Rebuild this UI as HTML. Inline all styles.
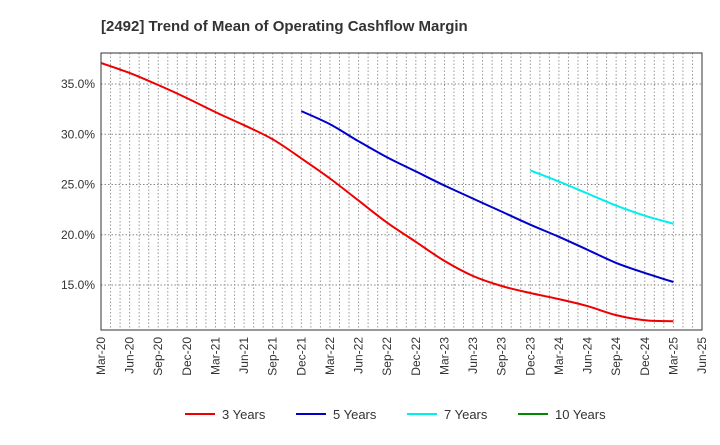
<!DOCTYPE html>
<html><head><meta charset="utf-8"><style>
body{margin:0;background:#fff;font-family:"Liberation Sans",Arial,sans-serif}
</style></head><body>
<svg id="c" width="720" height="440" xmlns="http://www.w3.org/2000/svg">
<text x="101" y="31" font-size="15" font-weight="bold" fill="#333">[2492]  Trend of Mean of Operating Cashflow Margin</text>
<g id="grid"></g><g id="axes"></g><g id="series"></g><g id="legend"></g>
</svg>
<script>
const xLabels=["Mar-20","Jun-20","Sep-20","Dec-20","Mar-21","Jun-21","Sep-21","Dec-21","Mar-22","Jun-22","Sep-22","Dec-22","Mar-23","Jun-23","Sep-23","Dec-23","Mar-24","Jun-24","Sep-24","Dec-24","Mar-25","Jun-25"];
const yTicks=[15,20,25,30,35];
const s3=[37.1,36.1,34.9,33.6,32.2,30.9,29.5,27.6,25.6,23.4,21.2,19.3,17.4,15.9,14.9,14.2,13.6,12.9,12.0,11.5,11.4];
const s5=[32.3,31.0,29.3,27.7,26.3,24.9,23.6,22.3,21.0,19.8,18.5,17.2,16.2,15.3];
const s5start=7;
const s7=[26.4,25.3,24.1,22.9,21.9,21.1];
const s7start=15;
const s10=[];
const NS="http://www.w3.org/2000/svg";
const L=101,R=702,T=53,B=330;
const X=i=>L+i*(R-L)/(xLabels.length-1);
const Y=v=>285-(v-15)*10.05;
function mk(t,a,p){const e=document.createElementNS(NS,t);for(const k in a)e.setAttribute(k,a[k]);p.appendChild(e);return e;}
const grid=document.getElementById('grid'),axes=document.getElementById('axes'),ser=document.getElementById('series'),leg=document.getElementById('legend');
for(let m=1;m<(xLabels.length-1)*3;m++){const x=L+m*(R-L)/((xLabels.length-1)*3);
const g=mk('line',{x1:x,x2:x,y1:T,y2:B,stroke:'#999','stroke-dasharray':'1.5,2','stroke-width':1},grid);

}
yTicks.forEach(v=>{const g=mk('line',{x1:L,x2:R,y1:Y(v),y2:Y(v),stroke:'#888','stroke-dasharray':'1.5,2','stroke-width':1},grid);


const t=mk('text',{x:L-6,y:Y(v)+4,'text-anchor':'end','font-size':12,fill:'#333'},axes);t.textContent=v.toFixed(1)+'%';

});
const fr=mk('rect',{x:L,y:T,width:R-L,height:B-T,fill:'none',stroke:'#333','stroke-width':1},axes);


xLabels.forEach((l,i)=>{const x=X(i);const t=mk('text',{transform:`translate(${x+4},${B+7}) rotate(-90)`,'text-anchor':'end','font-size':12,fill:'#333'},axes);t.textContent=l;

});
function line(d,st,col,name){if(!d.length)return;
const pts=d.map((v,i)=>[X(st+i),Y(v)]);
let s='M'+pts[0][0].toFixed(1)+','+pts[0][1].toFixed(1);
for(let i=0;i<pts.length-1;i++){const p0=pts[Math.max(i-1,0)],p1=pts[i],p2=pts[i+1],p3=pts[Math.min(i+2,pts.length-1)];
const c1=[p1[0]+(p2[0]-p0[0])/6,p1[1]+(p2[1]-p0[1])/6],c2=[p2[0]-(p3[0]-p1[0])/6,p2[1]-(p3[1]-p1[1])/6];
s+='C'+c1.map(n=>n.toFixed(1)).join(',')+' '+c2.map(n=>n.toFixed(1)).join(',')+' '+p2.map(n=>n.toFixed(1)).join(',');}
const p=mk('path',{d:s,fill:'none',stroke:col,'stroke-width':2},ser);

}
line(s3,0,'#e00','line-3-years');line(s5,s5start,'#00c','line-5-years');line(s7,s7start,'#0ee','line-7-years');line(s10,0,'#080','line-10-years');
[['3 Years','#e00',185],['5 Years','#00c',296],['7 Years','#0ee',407],['10 Years','#080',518]].forEach(([n,c,x])=>{
const g=mk('g',{},leg);

mk('line',{x1:x,x2:x+30,y1:414,y2:414,stroke:c,'stroke-width':2},g);
const t=mk('text',{x:x+37,y:419,'font-size':13,fill:'#333'},g);t.textContent=n;});
</script>
</body></html>
